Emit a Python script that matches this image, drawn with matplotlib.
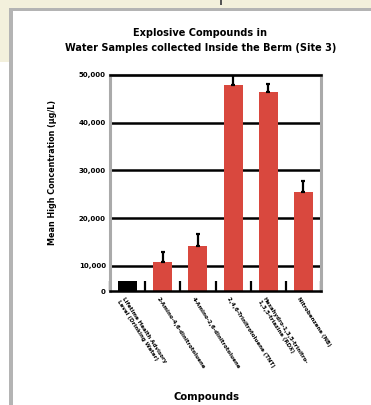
import matplotlib
matplotlib.use("Agg")
import matplotlib.pyplot as plt
import matplotlib.transforms as mtrans
import numpy as np
from matplotlib.patches import Rectangle

# Data
compounds = [
    "Lifetime Health Advisory\nLevel (Drinking Water)",
    "2-Amino-4,6-dinitrotoluene",
    "4-Amino-2,6-dinitrotoluene",
    "2,4,6-Trinitrotoluene (TNT)",
    "Hexahydro-1,3,5-trinitro-\n1,3,5-triazine (RDX)",
    "Nitrobenzene (NB)",
]
mean_conc = [4000, 10800, 14200, 47900, 46400, 25500]
upper_err = [0, 2200, 2400, 2000, 1800, 2200]
bar_colors = ["black", "#d9483e", "#d9483e", "#d9483e", "#d9483e", "#d9483e"]
ytick_vals = [0, 10000, 20000, 30000, 40000, 50000]
ytick_text = ["0", "10,000", "20,000", "30,000", "40,000", "50,000"]

# piecewise scale: first 10,000 step is drawn narrower than the others
SQ = 0.5236


def fwd(v):
    v = np.asarray(v, dtype=float)
    return np.where(v < 10000, v * SQ, 10000 * SQ + (v - 10000))


def inv(u):
    u = np.asarray(u, dtype=float)
    return np.where(u < 10000 * SQ, u / SQ, u - 10000 * SQ + 10000)


W, H = 371, 405
fig = plt.figure(figsize=(W / 100, H / 100), dpi=100)
fig.patch.set_facecolor("white")

# window frame around the chart
beige = "#f3f0dc"
fig.patches.append(Rectangle((0, 1 - 8 / H), 1, 8 / H, transform=fig.transFigure,
                             facecolor=beige, edgecolor="none", zorder=0))
fig.patches.append(Rectangle((0, 1 - 62 / H), 9 / W, 62 / H, transform=fig.transFigure,
                             facecolor=beige, edgecolor="none", zorder=0))
fig.patches.append(Rectangle((9 / W, 0), 4 / W, 1 - 8 / H, transform=fig.transFigure,
                             facecolor="#b4b4b4", edgecolor="none", zorder=1))
fig.patches.append(Rectangle((9 / W, 1 - 11 / H), 1, 3 / H, transform=fig.transFigure,
                             facecolor="#b4b4b4", edgecolor="none", zorder=1))
fig.patches.append(Rectangle((220 / W, 1 - 5 / H), 2 / W, 5 / H, transform=fig.transFigure,
                             facecolor="#555555", edgecolor="none", zorder=1))

ax = fig.add_axes([110 / W, 1 - 291 / H, 211 / W, 216 / H])
ax.set_yscale("function", functions=(fwd, inv))
ax.set_ylim(0, 50000)
ax.set_xlim(-0.5, len(compounds) - 0.5)

x = np.arange(len(compounds))
ax.bar(x, mean_conc, width=0.54, color=bar_colors, zorder=3)
ax.errorbar(x[1:], mean_conc[1:], yerr=[np.zeros(5), upper_err[1:]], fmt="none",
            ecolor="black", elinewidth=1.6, capsize=1.5, capthick=1.6, zorder=4)

# horizontal gridlines (top one sits over the frame)
for v in ytick_vals[1:]:
    ax.axhline(v, color="black", lw=1.8, zorder=6 if v == ytick_vals[-1] else 2,
               clip_on=False)

ax.set_yticks(ytick_vals)
ax.set_yticklabels(ytick_text, fontsize=5, fontweight="bold")
ax.tick_params(axis="y", length=0, pad=3)

# category boundary ticks along the baseline
ax.set_xticks(np.arange(-0.5, len(compounds)), minor=True)
ax.tick_params(axis="x", which="minor", direction="in", length=7, width=1.6, color="black")
ax.set_xticks(x)
ax.set_xticklabels(compounds, rotation=-57, ha="left", va="top",
                   rotation_mode="anchor", fontsize=4.0, fontweight="bold",
                   linespacing=1.15)
ax.tick_params(axis="x", which="major", length=0, pad=4)
shift = mtrans.ScaledTranslation(-2 / 72, 0, fig.dpi_scale_trans)
for lbl in ax.get_xticklabels():
    lbl.set_transform(lbl.get_transform() + shift)

for side in ("left", "right", "top"):
    ax.spines[side].set_color("#aaaaaa")
    ax.spines[side].set_linewidth(2.2)
ax.spines["bottom"].set_color("black")
ax.spines["bottom"].set_linewidth(1.8)
ax.spines["bottom"].set_zorder(6)

ax.set_ylabel("Mean High Concentration (\u00b5g/L)", fontsize=5.8, fontweight="bold")
ax.yaxis.set_label_coords(-0.25, 0.55)

fig.text(0.54, 1 - 33 / H, "Explosive Compounds in", ha="center", va="center",
         fontsize=7, fontweight="bold")
fig.text(0.54, 1 - 48 / H, "Water Samples collected Inside the Berm (Site 3)",
         ha="center", va="center", fontsize=7, fontweight="bold")
fig.text(207 / W, 1 - 397 / H, "Compounds", ha="center", va="center",
         fontsize=7.2, fontweight="bold")

fig.savefig("out.png", dpi=100)
